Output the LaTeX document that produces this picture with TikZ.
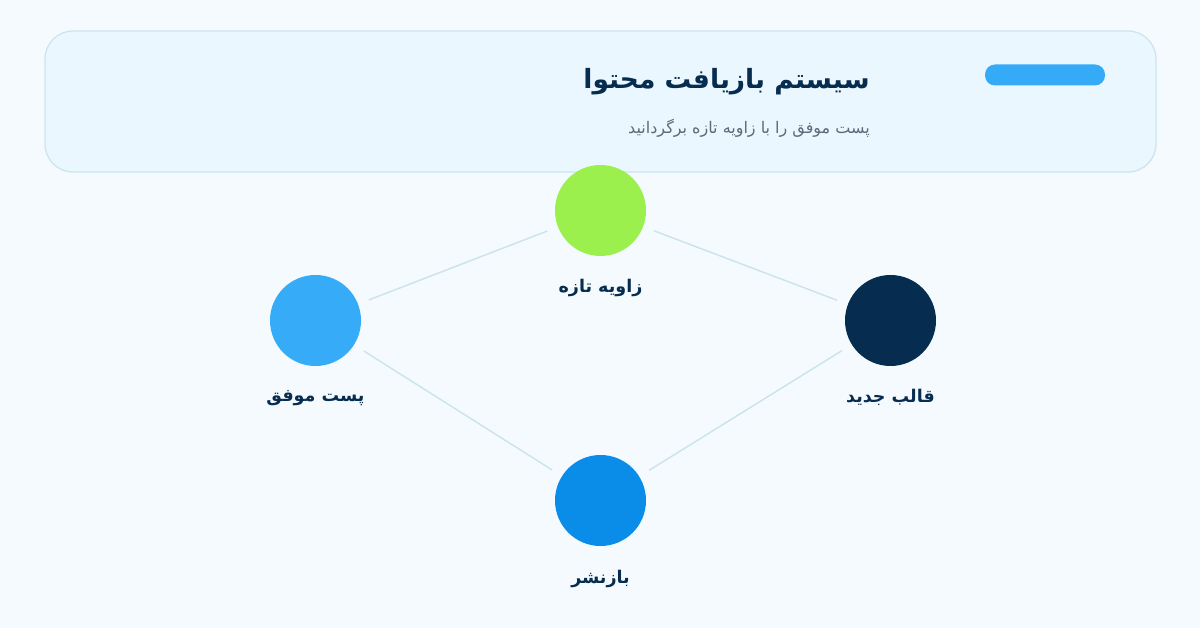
\documentclass[tikz,border=0pt]{standalone}
\usepackage{fontspec}
\TeXXeTstate=1
\newfontfamily\fa[Script=Arabic]{DejaVu Sans}
\definecolor{bg}{HTML}{F4FAFD}
\definecolor{hfill}{HTML}{EBF7FE}
\definecolor{hborder}{HTML}{CDE5EE}
\definecolor{pill}{HTML}{35ABF8}
\definecolor{navy}{HTML}{062D50}
\definecolor{subgray}{HTML}{5C6B7A}
\definecolor{cgreen}{HTML}{9CF04E}
\definecolor{cblue}{HTML}{36ACF8}
\definecolor{cblue2}{HTML}{0A8DE8}
\definecolor{edgec}{HTML}{CBE3EA}
\tikzset{
  dot/.style={circle, minimum size=91pt, inner sep=0pt, draw=none},
  lbl/.style={font=\fa\bfseries\fontsize{17.5}{21}\selectfont, text=navy, inner sep=0pt},
  edge/.style={draw=edgec, line width=1.4pt, shorten >=11.5pt, shorten <=11.5pt},
}
\begin{document}
\begin{tikzpicture}[x=1pt,y=-1pt]
\fill[bg] (0,0) rectangle (1200,628);
\useasboundingbox (0,0) rectangle (1200,628);
\draw[hborder, fill=hfill, line width=1.3pt, rounded corners=28pt] (45,31) rectangle (1156,172);
\fill[pill, rounded corners=10pt] (985,64.5) rectangle (1105,85.5);
\node[anchor=east, inner sep=0pt, text=navy, font=\fa\bfseries\fontsize{26.5}{30}\selectfont] (title) at (870,82) {\beginR سیستم بازیافت محتوا\endR};
\node[anchor=east, inner sep=0pt, text=subgray, font=\fa\fontsize{16}{20}\selectfont] (subtitle) at (870,128) {\beginR پست موفق را با زاویه تازه برگردانید\endR};
\node[dot, fill=cgreen] (c1) at (600.5,210.5) {};
\node[dot, fill=cblue] (c2) at (315.5,320.5) {};
\node[dot, fill=navy] (c3) at (890.5,320.5) {};
\node[dot, fill=cblue2] (c4) at (600.5,500.5) {};
\draw[edge] (c2) -- (c1);
\draw[edge] (c1) -- (c3);
\draw[edge] (c2) -- (c4);
\draw[edge] (c3) -- (c4);
\node[lbl] (l1) at (600.5,288) {\beginR زاویه تازه\endR};
\node[lbl] (l2) at (315.5,398) {\beginR پست موفق\endR};
\node[lbl] (l3) at (890.5,397) {\beginR قالب جدید\endR};
\node[lbl] (l4) at (600.5,579) {\beginR بازنشر\endR};
\end{tikzpicture}
\end{document}
